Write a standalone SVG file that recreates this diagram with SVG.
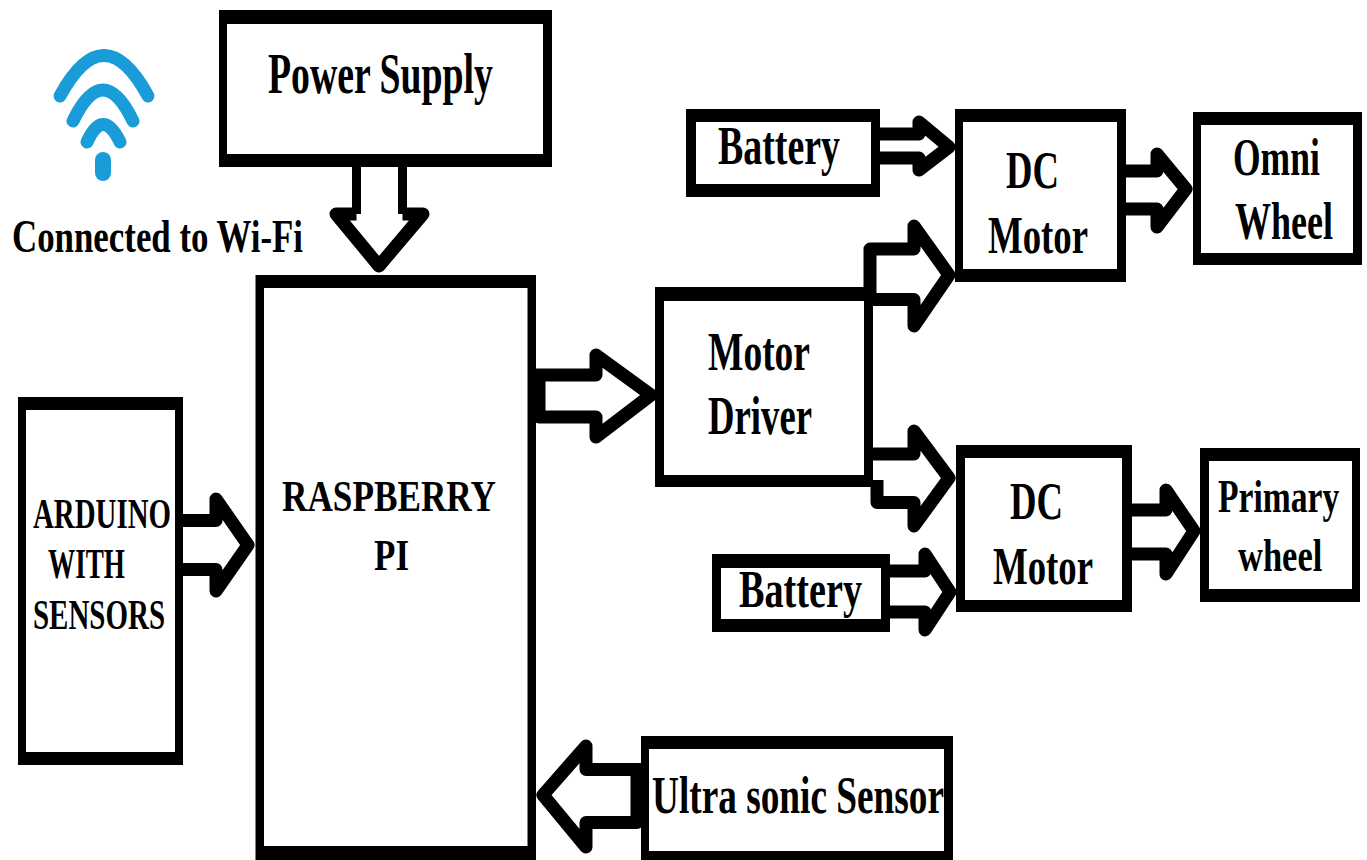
<svg xmlns="http://www.w3.org/2000/svg" width="1367" height="860" viewBox="0 0 1367 860">
<style>
.o{fill:#000}.i{fill:#fff}
.c path{fill:none;stroke:#000;stroke-width:13;stroke-linejoin:round}
text{font-family:"Liberation Serif","Times New Roman",serif;font-weight:bold;fill:#000}
.wifi path{fill:none;stroke:#1a9cd8;stroke-width:13;stroke-linecap:round}
</style>
<rect width="1367" height="860" fill="#fff"/>
<g id="connectors" class="c">
<path style="stroke-width:9" d="M356.500,167V214M402.500,167V214"/>
<path d="M356.500,214H336L379,266L423,214H402.500"/>
<path d="M875,134H919V122L949,147L919,170V158H875"/>
<path d="M870,300V249H914V226L949,275L914,326V299.500H866"/>
<path d="M866,454H914V431L949,478L914,526V502.500H877V480"/>
<path d="M885,571H925V554L950,592L925,630V612H885"/>
<path d="M1120,171H1157V154L1186,189L1157,227V209H1120"/>
<path d="M1128,510H1166V490L1194,531L1166,574V554H1128"/>
<path d="M536,375H596V355L651,395L596,437V417H539V375"/>
<path d="M183,520.500H216V499L248,545L216,591V569.500H183"/>
<path d="M641,769.500H586V746L543,795L586,847V822.500H637V769"/>
</g>
<g id="wifi" class="wifi">
<path d="M60,96Q104,15 148,96"/>
<path d="M73,121Q103,59 133,121"/>
<path d="M87,142Q103,107 120,142"/>
<rect x="95" y="152" width="16" height="29" rx="8" fill="#1a9cd8" style="stroke:none"/>
<text x="12" y="252" font-size="46" textLength="291" lengthAdjust="spacingAndGlyphs">Connected to Wi-Fi</text>
</g>
<g id="power"><rect class="o" x="219" y="10" width="333" height="157"/><rect class="i" x="227" y="24" width="316" height="130"/>
<text x="268" y="93" font-size="56" textLength="225" lengthAdjust="spacingAndGlyphs">Power Supply</text></g>
<g id="raspberry"><rect class="o" x="255.500" y="275" width="280.500" height="585"/><rect class="i" x="264" y="288" width="263.500" height="558"/>
<text x="282" y="511" font-size="45" textLength="214" lengthAdjust="spacingAndGlyphs">RASPBERRY</text>
<text x="374" y="570" font-size="45" textLength="35" lengthAdjust="spacingAndGlyphs">PI</text></g>
<g id="arduino"><rect class="o" x="18" y="397" width="165" height="368"/><rect class="i" x="26" y="410" width="149" height="342"/>
<text x="33" y="528" font-size="42" textLength="138" lengthAdjust="spacingAndGlyphs">ARDUINO</text>
<text x="48" y="578" font-size="42" textLength="77" lengthAdjust="spacingAndGlyphs">WITH</text>
<text x="33" y="629" font-size="42" textLength="132" lengthAdjust="spacingAndGlyphs">SENSORS</text></g>
<g id="driver"><rect class="o" x="655" y="287" width="218" height="200"/><rect class="i" x="664" y="301" width="200" height="174"/>
<text x="708" y="370" font-size="54" textLength="102" lengthAdjust="spacingAndGlyphs">Motor</text>
<text x="708" y="434" font-size="54" textLength="104" lengthAdjust="spacingAndGlyphs">Driver</text></g>
<g id="battery1"><rect class="o" x="686" y="109" width="194" height="88"/><rect class="i" x="696" y="122" width="175" height="62"/>
<text x="718" y="164" font-size="55" textLength="122" lengthAdjust="spacingAndGlyphs">Battery</text></g>
<g id="dc1"><rect class="o" x="955" y="109" width="171" height="173"/><rect class="i" x="963" y="122" width="154" height="147"/>
<text x="1006" y="188" font-size="53" textLength="53" lengthAdjust="spacingAndGlyphs">DC</text>
<text x="988" y="253" font-size="53" textLength="100" lengthAdjust="spacingAndGlyphs">Motor</text></g>
<g id="omni"><rect class="o" x="1193" y="112" width="169" height="153"/><rect class="i" x="1201" y="125" width="152" height="128"/>
<text transform="translate(1233,175) scale(0.67,1)" font-size="53">Omni</text>
<text transform="translate(1235,239) scale(0.68,1)" font-size="53">Wheel</text></g>
<g id="dc2"><rect class="o" x="956" y="445" width="176" height="167"/><rect class="i" x="965" y="458" width="157" height="142"/>
<text x="1010" y="519" font-size="53" textLength="53" lengthAdjust="spacingAndGlyphs">DC</text>
<text x="993" y="584" font-size="53" textLength="100" lengthAdjust="spacingAndGlyphs">Motor</text></g>
<g id="primary"><rect class="o" x="1200" y="448" width="160" height="154"/><rect class="i" x="1209" y="461" width="143" height="128"/>
<text transform="translate(1218,512) scale(0.73,1)" font-size="46">Primary</text>
<text transform="translate(1238,571) scale(0.75,1)" font-size="46">wheel</text></g>
<g id="battery2"><rect class="o" x="712" y="554" width="178" height="78"/><rect class="i" x="721" y="568" width="160" height="51"/>
<text x="739" y="607" font-size="53" textLength="123" lengthAdjust="spacingAndGlyphs">Battery</text></g>
<g id="ultrasonic"><rect class="o" x="641" y="736" width="312" height="124"/><rect class="i" x="649" y="749" width="295" height="102"/>
<text x="652" y="813" font-size="52" textLength="292" lengthAdjust="spacingAndGlyphs">Ultra sonic Sensor</text></g>
</svg>
